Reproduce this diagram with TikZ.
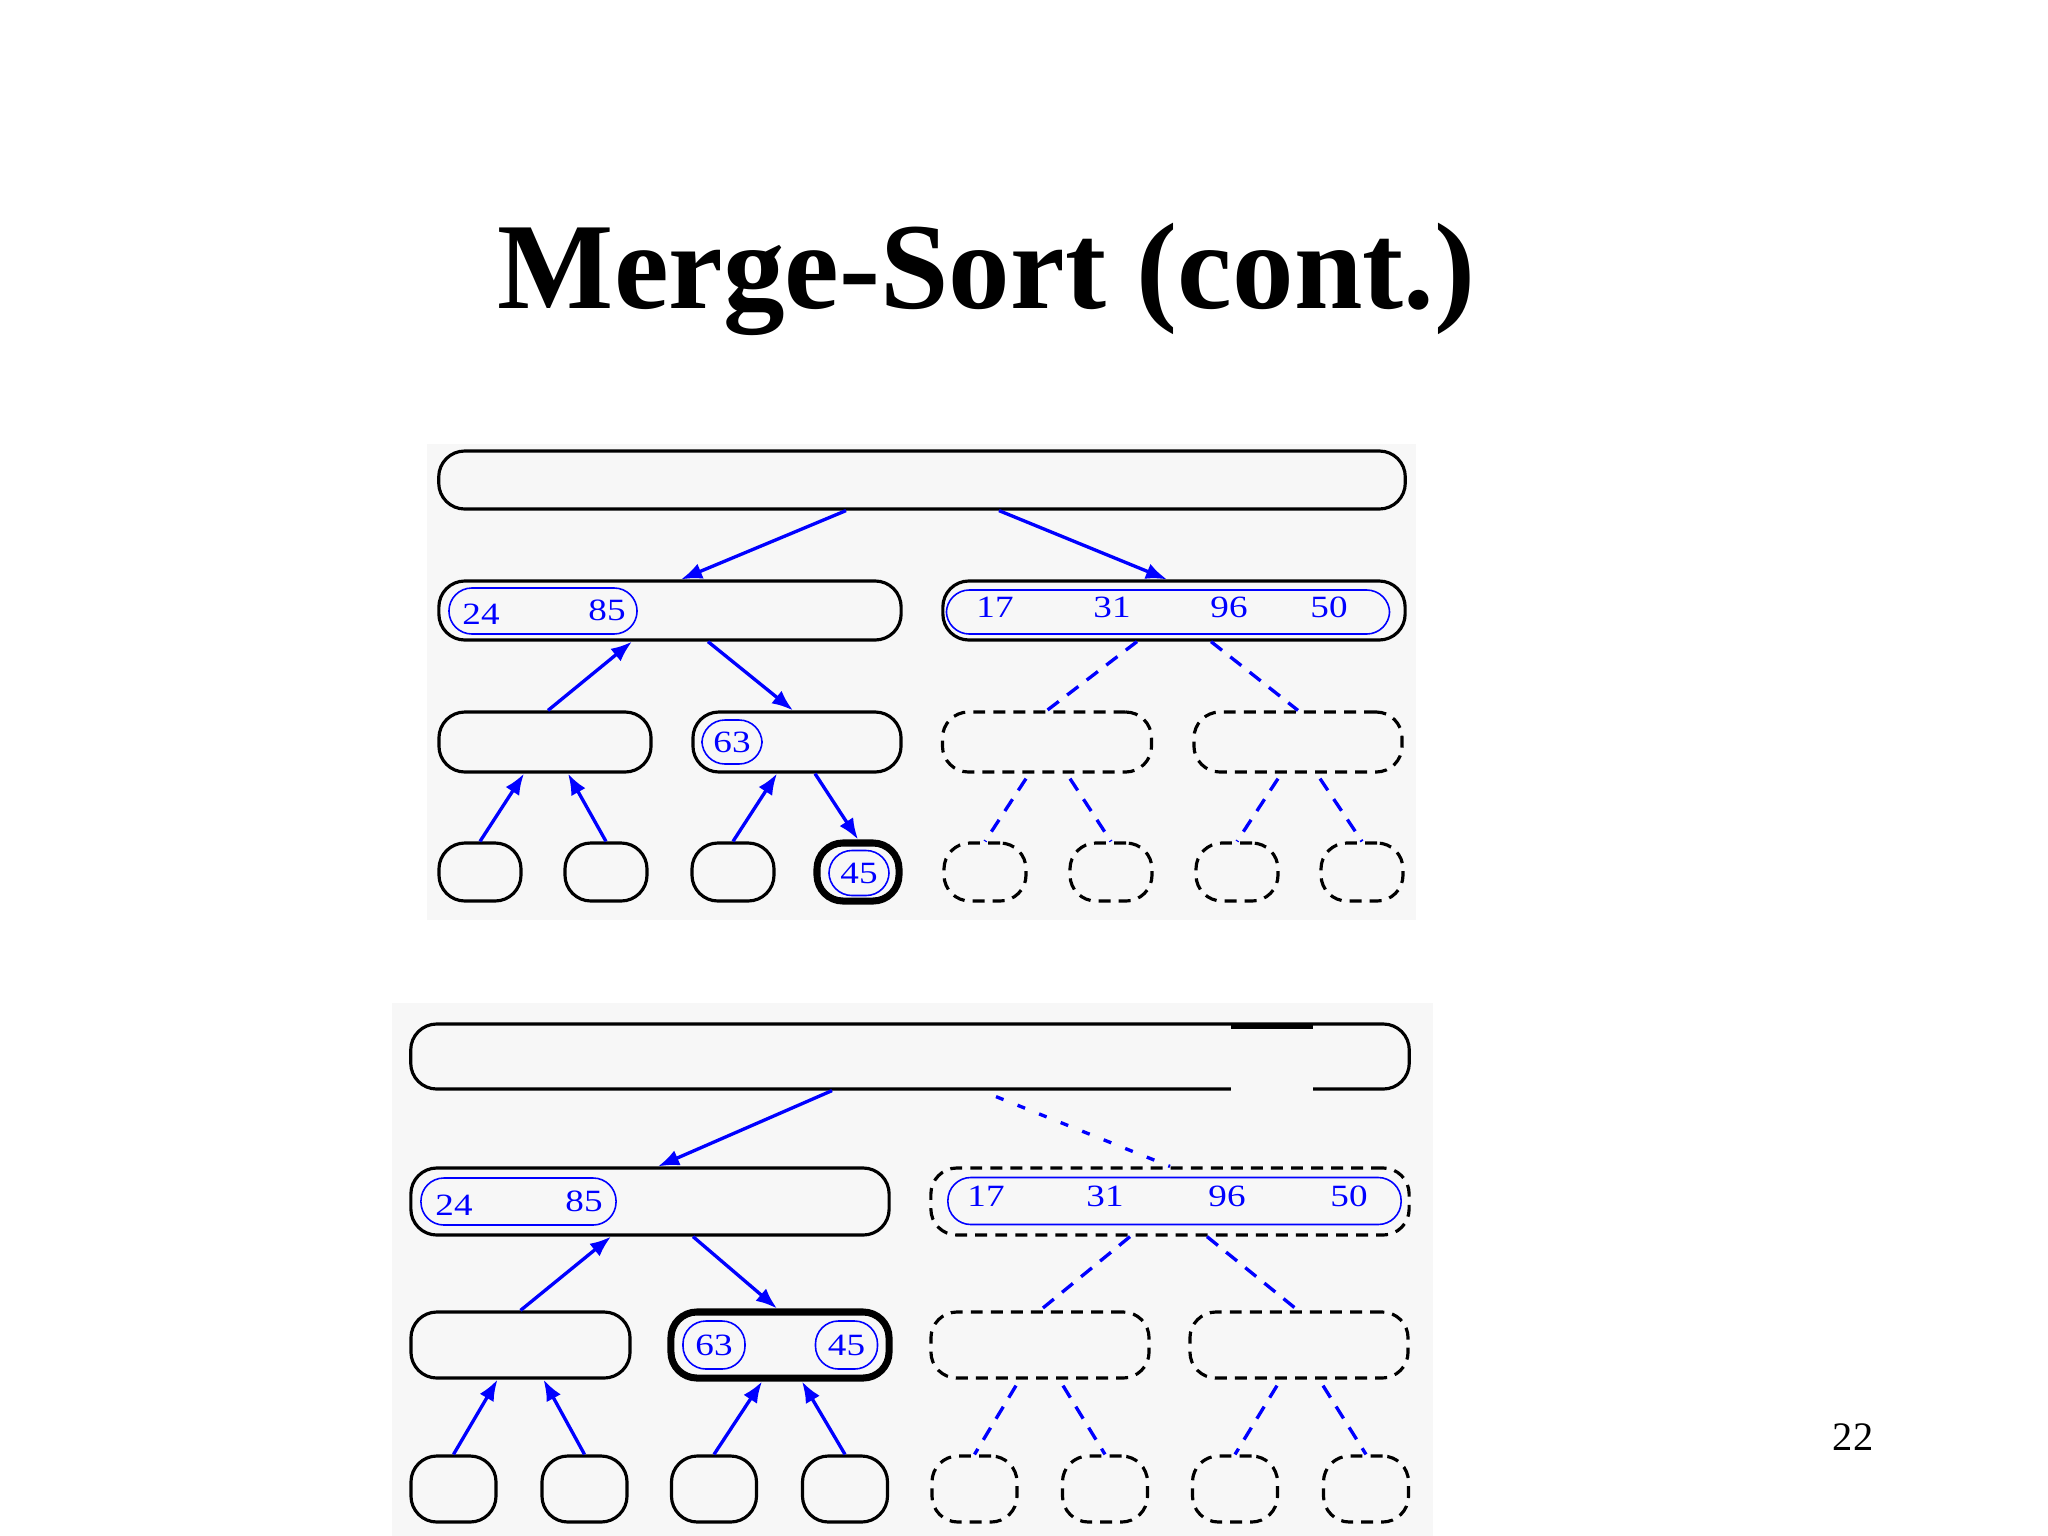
\documentclass[tikz,border=0pt]{standalone}
\usepackage{fontspec}
\setmainfont{Liberation Serif}
\newfontfamily\numfont[FakeStretch=1.2]{Liberation Serif}
\usepackage{xcolor}
\usepackage{tikz}
\usetikzlibrary{arrows.meta,calc}
\definecolor{panelbg}{RGB}{247,247,247}

\begin{document}
\begin{tikzpicture}[
    x=0.01cm, y=-0.01cm,
    box/.style={draw, line width=0.9pt, rounded corners=2.6mm, inner sep=0pt},
    dbox/.style={box, dash pattern=on 3.4pt off 2.3pt},
    hot/.style={box, line width=2pt},
    inbox/.style={draw=blue, line width=0.45pt, rounded corners=2.3mm, inner sep=0pt},
    num/.style={text=blue, font=\numfont\fontsize{8.8}{10}\selectfont, inner sep=0pt},
    arrow/.style={-{Latex[length=6pt,width=4.6pt]}, blue, line width=0.95pt},
    dline/.style={blue, line width=0.95pt, dash pattern=on 4pt off 3pt}
]
    \useasboundingbox[fill=white] (0,0) rectangle (2048,1536);
    \node[font=\fontsize{35}{40}\selectfont\bfseries, anchor=base, inner sep=0pt] (title) at (986.5,308) {Merge-Sort (cont.)};
    \node[font=\fontsize{11.5}{13}\selectfont, anchor=base, inner sep=0pt] (page) at (1853,1450) {22};

    % first snapshot
    \fill[panelbg] (427,444) rectangle (1416,920);
    \node[box, minimum width=9.66cm, minimum height=0.58cm] (root1) at (922,480) {};
    \node[box, minimum width=4.62cm, minimum height=0.59cm] (halfL1) at (670,610.5) {};
    \node[box, minimum width=4.62cm, minimum height=0.59cm] (halfR1) at (1174,610.5) {};
    \node[box, minimum width=2.12cm, minimum height=0.60cm] (qa1) at (545,742) {};
    \node[box, minimum width=2.08cm, minimum height=0.60cm] (qb1) at (797,742) {};
    \node[dbox, minimum width=2.09cm, minimum height=0.60cm] (qc1) at (1047,742) {};
    \node[dbox, minimum width=2.08cm, minimum height=0.60cm] (qd1) at (1298,742) {};
    \node[box, minimum width=0.82cm, minimum height=0.58cm] (leafa1) at (480,872) {};
    \node[box, minimum width=0.82cm, minimum height=0.58cm] (leafb1) at (606,872) {};
    \node[box, minimum width=0.82cm, minimum height=0.58cm] (leafc1) at (733,872) {};
    \node[hot, minimum width=0.82cm, minimum height=0.58cm] (leafd1) at (858,872) {};
    \node[dbox, minimum width=0.82cm, minimum height=0.58cm] (leafe1) at (985,872) {};
    \node[dbox, minimum width=0.82cm, minimum height=0.58cm] (leaff1) at (1111,872) {};
    \node[dbox, minimum width=0.82cm, minimum height=0.58cm] (leafg1) at (1237,872) {};
    \node[dbox, minimum width=0.82cm, minimum height=0.58cm] (leafh1) at (1362,872) {};

    \node[inbox, minimum width=1.88cm, minimum height=0.46cm] (runL1) at (543,611) {};
    \node[inbox, minimum width=4.43cm, minimum height=0.44cm] (runR1) at (1168,612) {};
    \node[inbox, minimum width=0.60cm, minimum height=0.44cm] (run63a) at (732,742) {};
    \node[inbox, minimum width=0.60cm, minimum height=0.45cm] (run45a) at (859,873) {};
    \node[num] (n24a) at (481,614) {24};
    \node[num] (n85a) at (607,610) {85};
    \node[num] (n17a) at (995,607) {17};
    \node[num] (n31a) at (1112,607) {31};
    \node[num] (n96a) at (1229,607) {96};
    \node[num] (n50a) at (1329,607) {50};
    \node[num] (n63a) at (732,742) {63};
    \node[num] (n45a) at (859,873) {45};

    \draw[arrow] ($(root1.south)+(-76,0)$) -- ($(halfL1.north)+(11,0)$);
    \draw[arrow] ($(root1.south)+(77,0)$) -- ($(halfR1.north)+(-7,0)$);
    \draw[arrow] ($(qa1.north)+(3,0)$) -- ($(halfL1.south)+(-38,0)$);
    \draw[arrow] ($(halfL1.south)+(38,0)$) -- ($(qb1.north)+(-4,0)$);
    \draw[arrow] (leafa1.north) -- ($(qa1.south)+(-21,0)$);
    \draw[arrow] (leafb1.north) -- ($(qa1.south)+(23,0)$);
    \draw[arrow] (leafc1.north) -- ($(qb1.south)+(-20,0)$);
    \draw[arrow] ($(qb1.south)+(18,0)$) -- (leafd1.north);
    \draw[dline] ($(halfR1.south)+(-37,0)$) -- (qc1.north);
    \draw[dline] ($(halfR1.south)+(37,0)$) -- (qd1.north);
    \draw[dline] ($(qc1.south)+(-21,5)$) -- (leafe1.north);
    \draw[dline] ($(qc1.south)+(23,5)$) -- (leaff1.north);
    \draw[dline] ($(qd1.south)+(-20,5)$) -- (leafg1.north);
    \draw[dline] ($(qd1.south)+(22,5)$) -- (leafh1.north);

    % second snapshot
    \fill[panelbg] (392,1003) rectangle (1433,1536);
    \node[box, minimum width=9.98cm, minimum height=0.65cm] (root2) at (910,1056.5) {};
    \fill[panelbg] (1231,1084) rectangle (1313,1096);
    \draw[line width=1.7pt] (1231,1026) -- (1313,1026);
    \node[box, minimum width=4.78cm, minimum height=0.67cm] (halfL2) at (650,1201.5) {};
    \node[dbox, minimum width=4.78cm, minimum height=0.67cm] (halfR2) at (1170,1201.5) {};
    \node[box, minimum width=2.19cm, minimum height=0.66cm] (qa2) at (520.5,1345) {};
    \node[hot, minimum width=2.18cm, minimum height=0.66cm] (qb2) at (780,1345) {};
    \node[dbox, minimum width=2.18cm, minimum height=0.66cm] (qc2) at (1040,1345) {};
    \node[dbox, minimum width=2.18cm, minimum height=0.66cm] (qd2) at (1299,1345) {};
    \node[box, minimum width=0.85cm, minimum height=0.66cm] (leafa2) at (453.5,1489) {};
    \node[box, minimum width=0.85cm, minimum height=0.66cm] (leafb2) at (584.5,1489) {};
    \node[box, minimum width=0.85cm, minimum height=0.66cm] (leafc2) at (714,1489) {};
    \node[box, minimum width=0.85cm, minimum height=0.66cm] (leafd2) at (845,1489) {};
    \node[dbox, minimum width=0.85cm, minimum height=0.66cm] (leafe2) at (974.5,1489) {};
    \node[dbox, minimum width=0.85cm, minimum height=0.66cm] (leaff2) at (1105,1489) {};
    \node[dbox, minimum width=0.85cm, minimum height=0.66cm] (leafg2) at (1235,1489) {};
    \node[dbox, minimum width=0.85cm, minimum height=0.66cm] (leafh2) at (1366,1489) {};

    \node[inbox, minimum width=1.95cm, minimum height=0.47cm] (runL2) at (518.5,1201.5) {};
    \node[inbox, minimum width=4.53cm, minimum height=0.47cm] (runR2) at (1174.5,1201) {};
    \node[inbox, minimum width=0.62cm, minimum height=0.48cm] (run63b) at (714,1345) {};
    \node[inbox, minimum width=0.62cm, minimum height=0.48cm] (run45b) at (846.5,1345) {};
    \node[num] (n24b) at (454,1205) {24};
    \node[num] (n85b) at (584,1201) {85};
    \node[num] (n17b) at (986,1196) {17};
    \node[num] (n31b) at (1105,1196) {31};
    \node[num] (n96b) at (1227,1196) {96};
    \node[num] (n50b) at (1349,1196) {50};
    \node[num] (n63b) at (714,1345) {63};
    \node[num] (n45b) at (846.5,1345) {45};

    \draw[arrow] ($(root2.south)+(-78,0)$) -- ($(halfL2.north)+(8,0)$);
    \draw[blue, line width=0.95pt, dash pattern=on 2.3pt off 4.3pt] ($(root2.south)+(86,6)$) -- (halfR2.north);
    \draw[arrow] (qa2.north) -- ($(halfL2.south)+(-39,0)$);
    \draw[arrow] ($(halfL2.south)+(43,0)$) -- ($(qb2.north)+(-3,0)$);
    \draw[arrow] (leafa2.north) -- ($(qa2.south)+(-23,0)$);
    \draw[arrow] (leafb2.north) -- ($(qa2.south)+(23,0)$);
    \draw[arrow] (leafc2.north) -- ($(qb2.south)+(-18,0)$);
    \draw[arrow] (leafd2.north) -- ($(qb2.south)+(22,0)$);
    \draw[dline] ($(halfR2.south)+(-40,0)$) -- (qc2.north);
    \draw[dline] ($(halfR2.south)+(37,0)$) -- ($(qd2.north)+(-1,0)$);
    \draw[dline] ($(qc2.south)+(-24,6)$) -- (leafe2.north);
    \draw[dline] ($(qc2.south)+(23,6)$) -- (leaff2.north);
    \draw[dline] ($(qd2.south)+(-22,6)$) -- (leafg2.north);
    \draw[dline] ($(qd2.south)+(24,6)$) -- (leafh2.north);
\end{tikzpicture}
\end{document}
